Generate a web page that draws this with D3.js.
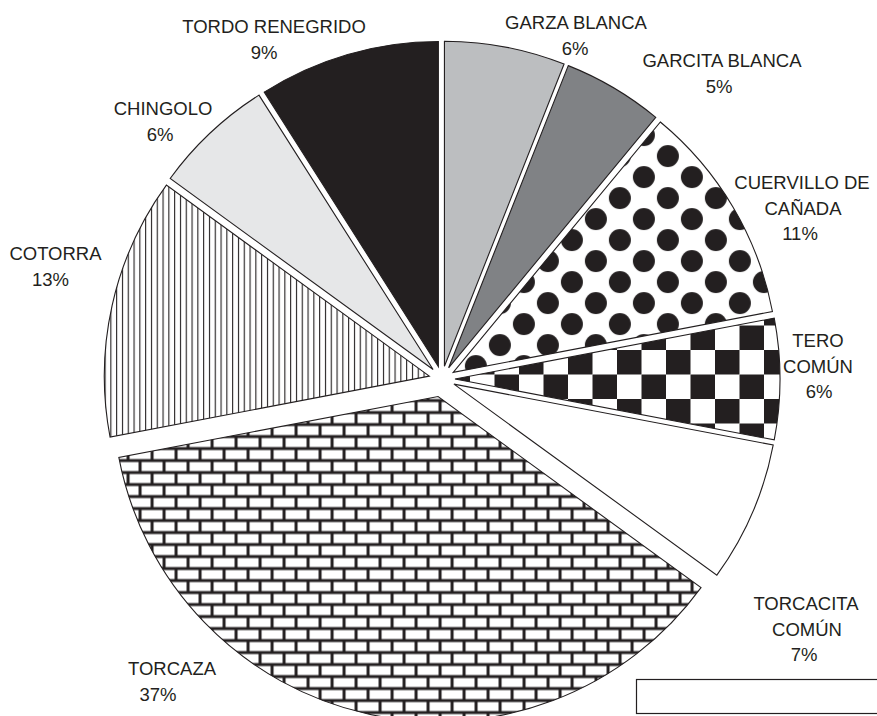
<!DOCTYPE html>
<html><head><meta charset="utf-8">
<script src="https://cdn.jsdelivr.net/npm/d3@7"></script>
<style>body{margin:0;background:#fff}svg{display:block}</style>
</head><body><svg id="c" width="877" height="716"></svg>
<script>
// ---- data ----
const categories = ["GARZA BLANCA","GARCITA BLANCA","CUERVILLO DE CAÑADA","TERO COMÚN","TORCACITA COMÚN","TORCAZA","COTORRA","CHINGOLO","TORDO RENEGRIDO"];
const values = [6,5,11,6,7,37,13,6,9];
const labelLines = [["GARZA BLANCA"],["GARCITA BLANCA"],["CUERVILLO DE","CAÑADA"],["TERO","COMÚN"],["TORCACITA","COMÚN"],["TORCAZA"],["COTORRA"],["CHINGOLO"],["TORDO RENEGRIDO"]];

// ---- layout / style ----
const ink = "#231f20";
const cx = 442, cy = 379, R = 325;
const explode = [13,13,13,13,13,18,13,13,13];
const fills = ["#bcbec0","#808285","url(#dots)","url(#checker)","#ffffff","url(#bricks)","url(#vlines)","#e6e7e8",ink];
// label anchor: [x of each line], first baseline
const labelPos = [
  {x:[576,575], y:29},
  {x:[722,719], y:67},
  {x:[802,803,800], y:189},
  {x:[818,818,819], y:347},
  {x:[806,807,804], y:610},
  {x:[172,158], y:675},
  {x:[55.5,50.5], y:260},
  {x:[163,160], y:115},
  {x:[274,264], y:33}
];
const lineGap = 25.5;

const svg = d3.select("#c");
const defs = svg.append("defs");

// dots pattern
const pd = defs.append("pattern").attr("id","dots").attr("patternUnits","userSpaceOnUse")
  .attr("x",22.7).attr("y",35.7).attr("width",48).attr("height",42);
pd.append("rect").attr("width",48).attr("height",42).attr("fill","#fff");
[[0,0],[48,0],[0,42],[48,42],[24,21]].forEach(([x,y])=>pd.append("circle").attr("cx",x).attr("cy",y).attr("r",11).attr("fill",ink));

// checker pattern
const s = 24.5;
const pc = defs.append("pattern").attr("id","checker").attr("patternUnits","userSpaceOnUse")
  .attr("x",15).attr("y",20).attr("width",2*s).attr("height",2*s);
pc.append("rect").attr("width",2*s).attr("height",2*s).attr("fill","#fff");
pc.append("rect").attr("x",0).attr("y",0).attr("width",s).attr("height",s).attr("fill",ink);
pc.append("rect").attr("x",s).attr("y",s).attr("width",s).attr("height",s).attr("fill",ink);

// bricks pattern
const pb = defs.append("pattern").attr("id","bricks").attr("patternUnits","userSpaceOnUse")
  .attr("x",2).attr("y",4).attr("width",24).attr("height",24);
pb.append("rect").attr("width",24).attr("height",24).attr("fill",ink);
[[1.5,1.5],[13.5,13.5],[-10.5,13.5]].forEach(([x,y])=>pb.append("rect").attr("x",x).attr("y",y).attr("width",21).attr("height",9).attr("fill","#fff"));

// vertical lines pattern
const pv = defs.append("pattern").attr("id","vlines").attr("patternUnits","userSpaceOnUse")
  .attr("x",0).attr("y",0).attr("width",5.8).attr("height",10);
pv.append("rect").attr("width",5.8).attr("height",10).attr("fill","#fff");
pv.append("rect").attr("x",0).attr("width",1.1).attr("height",10).attr("fill",ink);

// pie
const pie = d3.pie().sort(null).value(d=>d).startAngle(0).endAngle(2*Math.PI);
const arcs = pie(values);
const arc = d3.arc().innerRadius(0).outerRadius(R);

svg.append("g").selectAll("path").data(arcs).join("path")
  .attr("d", arc)
  .attr("transform", (d,i)=>{
    const a = (d.startAngle + d.endAngle)/2;
    const dx = explode[i]*Math.sin(a), dy = -explode[i]*Math.cos(a);
    return `translate(${cx+dx},${cy+dy})`;
  })
  .attr("fill", (d,i)=>fills[i])
  .attr("stroke", ink).attr("stroke-width",1.1).attr("stroke-linejoin","miter");

// labels
const lg = svg.append("g").attr("font-family","'Liberation Sans', Arial, sans-serif")
  .attr("font-size","18.5px").attr("fill",ink).attr("text-anchor","middle");
arcs.forEach((d,i)=>{
  const lines = labelLines[i].concat([values[i] + "%"]);
  lines.forEach((t,j)=>{
    lg.append("text").attr("x", labelPos[i].x[j]).attr("y", labelPos[i].y + j*lineGap).text(t);
  });
});

// box at bottom right
svg.append("rect").attr("x",636.5).attr("y",679.5).attr("width",300).attr("height",34)
  .attr("fill","#fff").attr("stroke",ink).attr("stroke-width",1.2);
</script>
</body></html>
